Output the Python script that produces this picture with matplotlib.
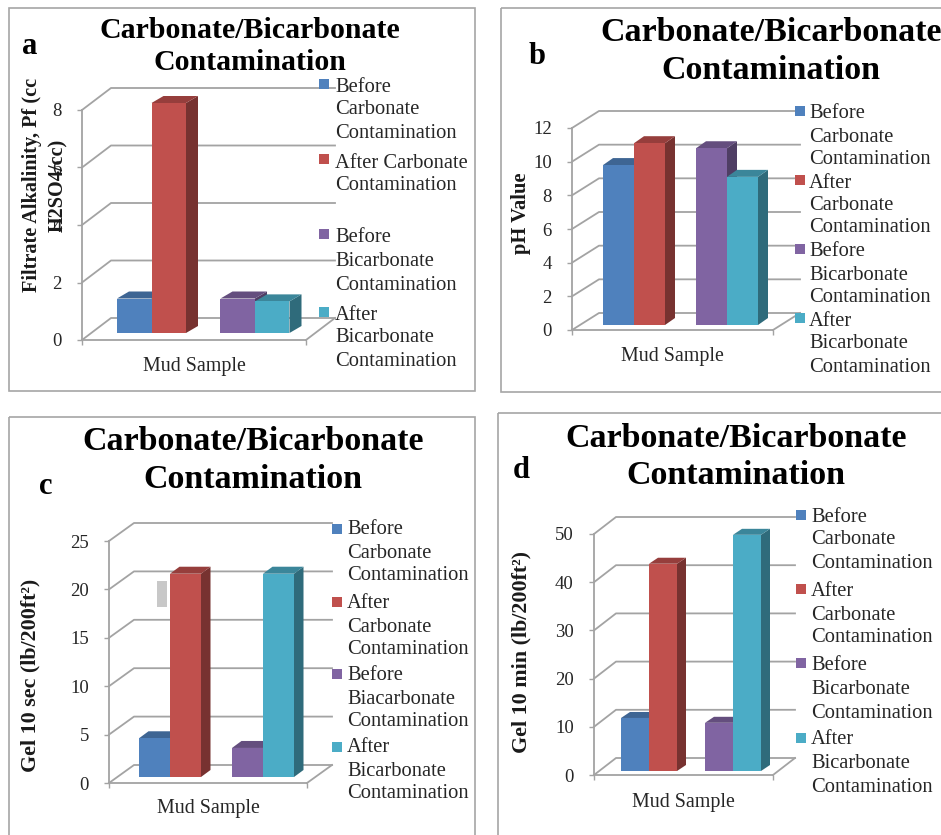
import matplotlib
matplotlib.use("Agg")
import matplotlib.pyplot as plt
from matplotlib.colors import to_rgb
from matplotlib.patches import Rectangle
from matplotlib.transforms import Affine2D

W, H = 941, 835

# values
pf_values = [1.2, 8, 1.2, 1.1]
ph_values = [9.5, 10.8, 10.5, 8.8]
gel10s_values = [4, 21, 3, 21]
gel10m_values = [11, 43, 10, 49]

pf_ticks = [0, 2, 4, 6, 8]
ph_ticks = [0, 2, 4, 6, 8, 10, 12]
gel10s_ticks = [0, 5, 10, 15, 20, 25]
gel10m_ticks = [0, 10, 20, 30, 40, 50]

bar_pos = [0, 1, 3, 4]
bar_colors = ["#4f81bd", "#c0504d", "#8064a2", "#4bacc6"]

title_text = "Carbonate/Bicarbonate\nContamination"
legend_a = ["Before\nCarbonate\nContamination", "After Carbonate\nContamination",
            "Before\nBicarbonate\nContamination", "After\nBicarbonate\nContamination"]
legend_b = ["Before\nCarbonate\nContamination", "After\nCarbonate\nContamination",
            "Before\nBicarbonate\nContamination", "After\nBicarbonate\nContamination"]
legend_c = ["Before\nCarbonate\nContamination", "After\nCarbonate\nContamination",
            "Before\nBiacarbonate\nContamination", "After\nBicarbonate\nContamination"]

# layout is in pixels of the original, y going down
panels = [
    dict(letter="a", letter_xy=(30, 46), box=(9, 8, 466, 383), values=pf_values, ticks=pf_ticks,
         ylabel="Filtrate Alkalinity, Pf (cc\nH2SO4/cc)", ylabel_xy=(45, 185), ylabel_size=14.6,
         origin=(82, 340), right=306, top=110, depth=(29, 22),
         bar_left=117, bar_w=34.5, bar_lift=7, bar_depth=(12, 7),
         title_xy=(250, 46.5), title_size=21.5, xlabel_xy=(194, 366),
         legend=legend_a, marker_x=319, marker_dy=-3, text_x=335,
         legend_y=[[87, 109, 133], [162, 185], [237, 261, 285], [315, 337, 361]]),
    dict(letter="b", letter_xy=(537, 56), box=(501, 8, 480, 384), values=ph_values, ticks=ph_ticks,
         ylabel="pH Value", ylabel_xy=(521, 213), ylabel_size=14.8,
         origin=(572, 330), right=773, top=128, depth=(27, 17),
         bar_left=603, bar_w=31, bar_lift=5, bar_depth=(10, 7),
         title_xy=(771, 51.5), title_size=24.5, xlabel_xy=(672, 356),
         legend=legend_b, marker_x=795, marker_dy=-2, text_x=809,
         legend_y=[[113, 136, 159], [182, 205, 227], [251, 275, 297], [320, 343, 366]]),
    dict(letter="c", letter_xy=(46, 486), box=(9, 417, 466, 480), values=gel10s_values, ticks=gel10s_ticks,
         ylabel="Gel 10 sec (lb/200ft²)", ylabel_xy=(30, 675), ylabel_size=15.8,
         origin=(109, 783), right=307, top=541, depth=(25, 18),
         bar_left=139, bar_w=31, bar_lift=6, bar_depth=(9.5, 7),
         title_xy=(253, 460.5), title_size=24.5, xlabel_xy=(208, 809),
         legend=legend_c, marker_x=332, marker_dy=0, text_x=347,
         legend_y=[[529, 553, 575], [602, 626, 648], [674, 698, 720], [747, 771, 793]]),
    dict(letter="d", letter_xy=(521, 471), box=(498, 413, 480, 480), values=gel10m_values, ticks=gel10m_ticks,
         ylabel="Gel 10 min (lb/200ft²)", ylabel_xy=(521, 652), ylabel_size=15.8,
         origin=(594, 775), right=773, top=534, depth=(22, 17),
         bar_left=621, bar_w=28, bar_lift=4, bar_depth=(9, 6),
         title_xy=(736, 457), title_size=24.5, xlabel_xy=(683, 802),
         legend=legend_b, marker_x=796, marker_dy=-1, text_x=811,
         legend_y=[[516, 538, 562], [590, 614, 636], [664, 688, 712], [739, 762, 786]]),
]

GRID = "#a3a3a3"
TEXT = "#262626"
plt.rcParams["font.family"] = "Liberation Serif"

fig = plt.figure(figsize=(W / 100, H / 100), dpi=100)
# pixel coordinates of the original picture -> figure
PX = Affine2D().scale(1 / W, -1 / H).translate(0, 1) + fig.transFigure


def shade(color, k):
    r, g, b = to_rgb(color)
    return (r * k, g * k, b * k)


def draw_panel(p):
    x, y, w, h = p["box"]
    fig.add_artist(Rectangle((x, y), w, h, transform=PX, fill=False, ec="#a6a6a6", lw=1.2))

    ox, oy = p["origin"]
    ax = fig.add_axes([ox / W, 1 - oy / H, (p["right"] - ox) / W, (oy - p["top"]) / H])
    ax.patch.set_visible(False)
    ymax = p["ticks"][-1]
    xl = (ox - p["bar_left"]) / p["bar_w"]
    xr = (p["right"] - p["bar_left"]) / p["bar_w"]
    ax.set_xlim(xl, xr)
    ax.set_ylim(0, ymax)
    sy = (oy - p["top"]) / ymax

    # side wall and back wall grid
    dx = p["depth"][0] / p["bar_w"]
    dy = p["depth"][1] / sy
    for t in p["ticks"]:
        ax.plot([xl, xl + dx, xr + dx], [t, t + dy, t + dy], color=GRID, lw=1.3, clip_on=False, zorder=1)
    ax.plot([xr, xr + dx], [0, dy], color=GRID, lw=1.3, clip_on=False, zorder=1)

    # bars, left to right so each one covers the side of the one before
    lift = p["bar_lift"] / sy
    bdx = p["bar_depth"][0] / p["bar_w"]
    bdy = p["bar_depth"][1] / sy
    for i, (pos, val, col) in enumerate(zip(bar_pos, p["values"], bar_colors)):
        z = 3 + i
        top = val + lift
        ax.fill([pos + 1, pos + 1 + bdx, pos + 1 + bdx, pos + 1],
                [lift, lift + bdy, top + bdy, top], color=shade(col, 0.62), lw=0, clip_on=False, zorder=z)
        ax.fill([pos, pos + bdx, pos + 1 + bdx, pos + 1],
                [top, top + bdy, top + bdy, top], color=shade(col, 0.78), lw=0, clip_on=False, zorder=z)
        ax.bar(pos, val, width=1, bottom=lift, align="edge", color=col, lw=0, clip_on=False, zorder=z)

    for side in ["top", "right"]:
        ax.spines[side].set_visible(False)
    for side in ["left", "bottom"]:
        ax.spines[side].set_color(GRID)
        ax.spines[side].set_linewidth(1.3)
    ax.set_xticks([xl, xr])
    ax.set_xticklabels([])
    ax.set_yticks(p["ticks"])
    ax.tick_params(axis="x", color=GRID, length=3.5, width=1)
    ax.tick_params(axis="y", color=GRID, length=3.5, width=1, pad=11, labelsize=13.5, labelcolor=TEXT)

    ax.set_xlabel("Mud Sample", fontsize=14.4, color=TEXT, va="center", ha="center")
    ax.xaxis.set_label_coords(*p["xlabel_xy"], transform=PX)
    ax.set_ylabel(p["ylabel"], fontsize=p["ylabel_size"], fontweight="bold", color="#1a1a1a",
                  va="center", ha="center", multialignment="center", linespacing=1.4)
    ax.yaxis.set_label_coords(*p["ylabel_xy"], transform=PX)

    fig.text(*p["title_xy"], title_text, transform=PX, fontsize=p["title_size"], fontweight="bold",
             color="black", ha="center", va="center", linespacing=1.28)
    fig.text(*p["letter_xy"], p["letter"], transform=PX, fontsize=22, fontweight="bold",
             color="black", ha="center", va="center")

    # legend, line by line because the spacing in the original is not even
    for label, ys, col in zip(p["legend"], p["legend_y"], bar_colors):
        fig.add_artist(Rectangle((p["marker_x"], ys[0] + p["marker_dy"] - 5), 10, 10, transform=PX,
                                 fc=col, ec="none", zorder=6))
        for line, ly in zip(label.split("\n"), ys):
            fig.text(p["text_x"], ly + 1, line, transform=PX, fontsize=14.8, color=TEXT, ha="left", va="center")


for p in panels:
    draw_panel(p)

# grey leftover block in panel c
fig.add_artist(Rectangle((157, 581), 10, 26, transform=PX, fc="#c8c8c8", ec="none"))

fig.savefig("out.png", dpi=100, facecolor="white")
